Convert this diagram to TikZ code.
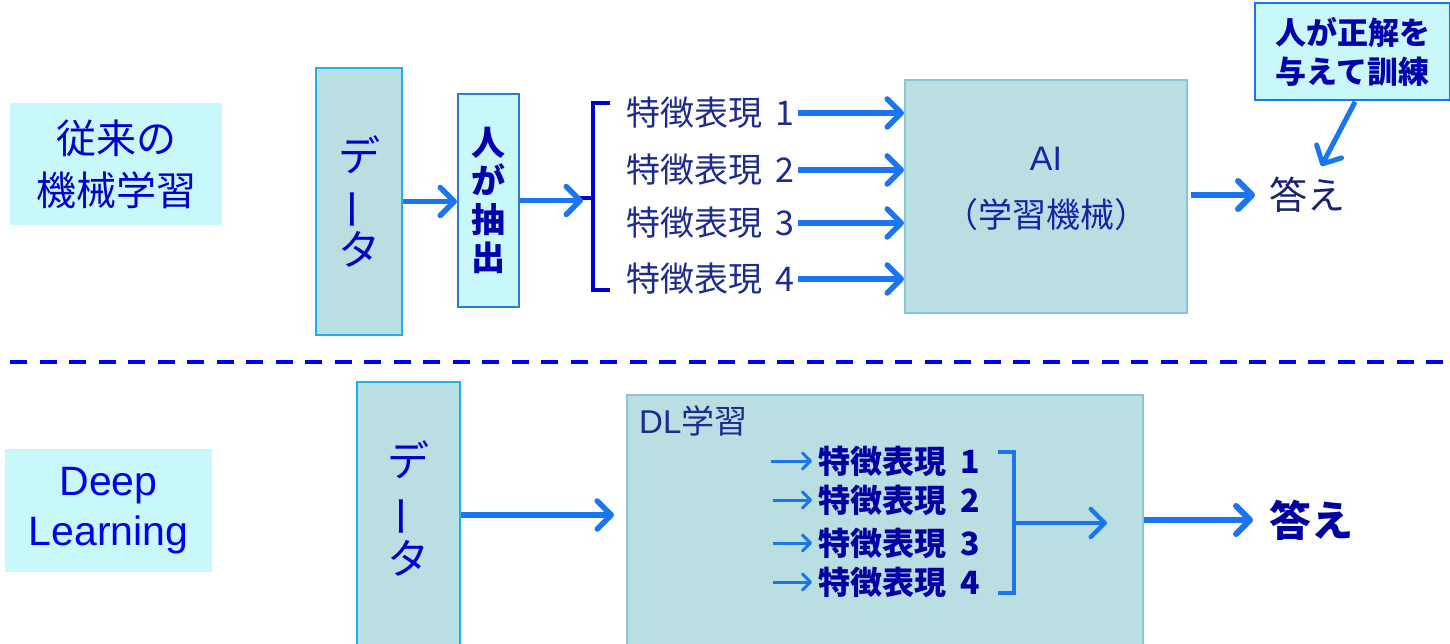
\documentclass[tikz,border=0pt]{standalone}
\usepackage{fontspec}
\setmainfont{Noto Sans CJK JP}
\newfontfamily\lat{Liberation Sans}
\usepackage{graphicx}
\usetikzlibrary{arrows.meta}
\definecolor{lcyan}{HTML}{C8F8FA}
\definecolor{bfill}{HTML}{BADFE3}
\definecolor{bcyan}{HTML}{20B0E8}
\definecolor{bgray}{HTML}{8CC4D4}
\definecolor{bblue}{HTML}{2A80C8}
\definecolor{abl}{HTML}{1A75EE}
\definecolor{tblue}{HTML}{0000CC}
\definecolor{tnavy}{HTML}{1E2A8C}
\definecolor{tdark}{HTML}{1A2270}
\definecolor{tbright}{HTML}{0000F0}
\newcommand{\fsz}[2]{\fontsize{#1}{#2}\selectfont}
\newcommand{\vbar}{\rotatebox[origin=c]{90}{ー}}
\begin{document}
\begin{tikzpicture}[x=1pt,y=-1pt,
  box/.style={draw, line width=2pt, inner sep=0pt, anchor=center},
  labelbox/.style={fill=lcyan, inner sep=0pt, align=center},
  bigarr/.style={draw=abl, line width=5.5pt, -{Straight Barb[length=14pt,width=28pt,round]}},
  smallarr/.style={draw=abl, line width=3pt, -{Straight Barb[length=8pt,width=16pt,round]}},
  feat/.style={anchor=west, inner sep=3pt, text=tnavy, font=\fsz{34}{40}},
  featb/.style={anchor=west, inner sep=3pt, text=tblue!80!black, font=\fsz{32}{38}\bfseries},
  brk/.style={line width=3.5pt, line cap=butt, line join=miter}
]
\useasboundingbox (0,0) rectangle (1450,644);
\fill[white] (0,0) rectangle (1450,644);

% ---------- upper part ----------
\node[labelbox, minimum width=212pt, minimum height=122pt, text=tblue, font=\fsz{40}{52}]
  (lab1) at (116,164) {従来の\\機械学習};

\node[box, draw=bcyan, fill=bfill, minimum width=86pt, minimum height=267pt,
  align=center, text=tblue, font=\fsz{42}{47}] (data1) at (359,201.5) {デ\\\vbar\\タ};

\node[box, draw=bblue, fill=lcyan, minimum width=61pt, minimum height=213pt,
  align=center, text=tblue!85!black, font=\fsz{34}{38.5}\bfseries] (ext) at (488.5,200.5) {人\\が\\抽\\出};

\draw[bigarr] (data1.east) -- (data1.east -| ext.west);

% bracket
\coordinate (bt) at (610,103);
\coordinate (bb) at (610,290);
\coordinate (bm) at (593,198);
\coordinate (bl) at (574,198);
\draw[brk, draw=tblue] (bt) -- (593,103) -- (593,290) -- (bb);
\draw[brk, draw=tblue] (bl) -- (bm);
\draw[bigarr] (ext.east) -- (ext.east -| 583,0);

\node[box, draw=bgray, fill=bfill, minimum width=282pt, minimum height=233pt,
  label={[name=ailab, align=center, text=tnavy!80!blue, font=\fsz{34}{57}, yshift=8pt]center:{\lat AI}\\（学習機械）}]
  (ai) at (1046,196.5) {};

\node[feat] (f1) at (623,113) {特徴表現\hspace{0.4em}1};
\node[feat] (f2) at (623,170) {特徴表現\hspace{0.4em}2};
\node[feat] (f3) at (623,223) {特徴表現\hspace{0.4em}3};
\node[feat] (f4) at (623,279) {特徴表現\hspace{0.4em}4};
\foreach \i in {1,2,3,4}{
  \draw[bigarr] (f\i.east) -- (f\i.east -| ai.west);
}

\node[anchor=west, inner sep=3pt, text=tdark, font=\fsz{38}{44}] (ans1) at (1266,195) {答え};
\draw[bigarr, line width=6pt, shorten <=3pt, shorten >=11pt] (ai.east |- ans1.west) -- (ans1.west);

\node[box, draw=abl, fill=lcyan, minimum width=195pt, minimum height=97pt,
  align=center, text=tblue!85!black, font=\fsz{31}{39}\bfseries] (call) at (1352.5,51.5) {人が正解を\\与えて訓練};
\draw[bigarr, line width=5pt, shorten <=1pt, shorten >=9pt] ([xshift=3pt]call.south) -- ([xshift=10pt]ans1.north);

% dashed separator
\coordinate (d1) at (10,362);
\coordinate (d2) at (1452,362);
\draw[draw=tbright, line width=4.5pt, dash pattern=on 17pt off 12.5pt] (d1) -- (d2);

% ---------- lower part ----------
\node[labelbox, minimum width=207pt, minimum height=123pt, text=tbright, font=\lat\fsz{41}{50}]
  (lab2) at (108.5,510.5) {Deep\\Learning};

\node[box, draw=bcyan, fill=bfill, minimum width=103pt, minimum height=276pt,
  label={[name=data2lab, align=center, text=tblue, font=\fsz{42}{49}, yshift=11pt]center:デ\\\vbar\\タ}]
  (data2) at (408.5,520) {};

\node[box, draw=bgray, fill=bfill, minimum width=516pt, minimum height=265pt] (dl) at (885,527.5) {};
\draw[bigarr, shorten >=12pt] ([yshift=5pt]data2.east) -- ([yshift=5pt]data2.east -| dl.west);

\node[anchor=west, inner sep=2pt, text=tnavy, font=\fsz{33}{38}] (dllab) at (637,421) {{\lat DL}学習};

\node[featb] (g1) at (815,461) {特徴表現\hspace{0.45em}1};
\node[featb] (g2) at (815,500) {特徴表現\hspace{0.45em}2};
\node[featb] (g3) at (815,543) {特徴表現\hspace{0.45em}3};
\node[featb] (g4) at (815,582) {特徴表現\hspace{0.45em}4};
\coordinate (s1) at (771,461);
\coordinate (s2) at (773,500);
\coordinate (s3) at (773,543);
\coordinate (s4) at (773,582);
\foreach \i in {1,2,3,4}{
  \draw[smallarr, shorten >=3pt] (s\i) -- (g\i.west);
}

\coordinate (ct) at (998,452);
\coordinate (cb) at (998,593);
\coordinate (cm) at (1014,523);
\coordinate (ce) at (1107,523);
\draw[brk, draw=abl] (ct) -- (1014,452) -- (1014,593) -- (cb);
\draw[bigarr, line width=4.5pt] (cm) -- (ce);

\node[anchor=west, inner sep=3pt, text=tblue!80!black, font=\fsz{42}{48}\bfseries] (ans2) at (1266,520) {答え};
\draw[bigarr, line width=6pt, shorten >=13pt] (ans2.west -| dl.east) -- (ans2.west);
\end{tikzpicture}
\end{document}
